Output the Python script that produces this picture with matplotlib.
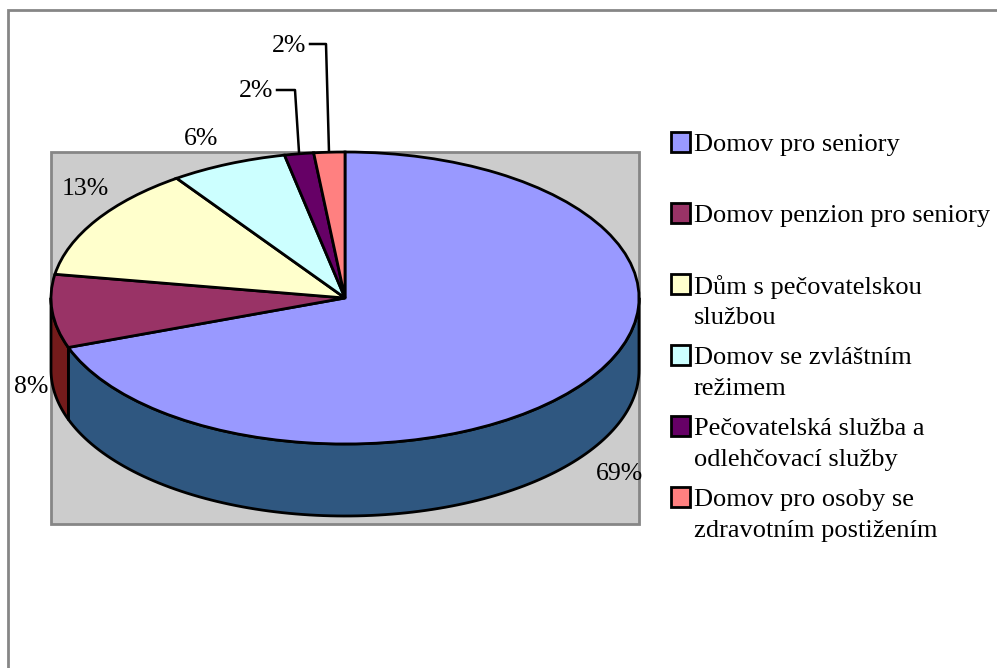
import numpy as np
import matplotlib
matplotlib.use("Agg")
import matplotlib.pyplot as plt
from matplotlib.patches import Rectangle

plt.rcParams['font.family'] = ['Liberation Serif', 'DejaVu Serif']

W = 997
H = 668

categories = ["Domov pro seniory", "Domov penzion pro seniory", "Dům s pečovatelskou\nslužbou",
              "Domov se zvláštním\nrežimem", "Pečovatelská služba a\nodlehčovací služby",
              "Domov pro osoby se\nzdravotním postižením"]
values = [69.5, 8.1, 12.7, 6.4, 1.6, 1.7]
labels = ["69%", "8%", "13%", "6%", "2%", "2%"]
colors = ["#9999FF", "#993366", "#FFFFCC", "#CCFFFF", "#660066", "#FF8080"]
side_colors = ["#2F5780", "#741B1B", "#808066", "#668080", "#330033", "#804040"]

label_pos = [(619, 474), (31, 387), (85, 189), (201, 139), (256, 91), (289, 46)]
legend_y = [143, 214, 285, 356, 427, 498]

fig = plt.figure(figsize=(W / 100, H / 100), dpi=100)

bg = fig.add_axes([0, 0, 1, 1])
bg.set_xlim(0, W)
bg.set_ylim(H, 0)
bg.axis('off')

# outer frame and grey plot area
bg.plot([8, 8, W], [H, 10, 10], color='#868686', lw=2, solid_joinstyle='miter')
bg.add_patch(Rectangle((51, 152), 588, 372, fc='#CCCCCC', ec='#868686', lw=2))

# pie in its own axes, ellipse comes from non equal aspect
depth = 72 / 146
left = 51
right = 639
top = 152
bottom = 152 + 146 * (2 + depth)
ax = fig.add_axes([left / W, 1 - bottom / H, (right - left) / W, (bottom - top) / H])
ax.patch.set_alpha(0)

angles = 90 - np.cumsum([0] + values) / np.sum(values) * 360

# side wall, only lower half of the ellipse shows
for i in range(len(values)):
    a_hi = angles[i]
    a_lo = angles[i + 1]
    # angles run below zero, shift them into the 180..360 window
    if a_hi <= 0:
        a_hi += 360
        a_lo += 360
    elif a_lo < 0:
        a_lo += 360
        a_hi = 360
    start = max(a_lo, 180)
    end = min(a_hi, 360)
    if end <= start:
        continue
    t = np.radians(np.linspace(start, end, 120))
    x = np.cos(t)
    y = np.sin(t)
    xs = np.concatenate([x, x[::-1]])
    ys = np.concatenate([y, y[::-1] - depth])
    ax.fill(xs, ys, fc=side_colors[i], ec='black', lw=2, joinstyle='round', zorder=1, clip_on=False)

ax.pie(values, colors=colors, startangle=90, counterclock=False, radius=1,
       wedgeprops={'edgecolor': 'black', 'linewidth': 2, 'clip_on': False})
for w in ax.patches:
    w.set_zorder(2)
ax.set_aspect('auto')
ax.set_xlim(-1, 1)
ax.set_ylim(-1 - depth, 1)
ax.axis('off')

# data labels
for lab, (x, y) in zip(labels, label_pos):
    bg.text(x, y, lab, fontsize=18.5, ha='center', va='center', color='black')

# leader lines for the two small slices
bg.plot([277, 295, 299], [90, 90, 152], color='black', lw=1.8)
bg.plot([310, 326, 329], [44, 44, 152], color='black', lw=1.8)

# legend
for name, col, y in zip(categories, colors, legend_y):
    bg.add_patch(Rectangle((670.5, y - 11), 19.5, 19.5, fc=col, ec='black', lw=2))
    if "\n" in name:
        first, second = name.split("\n")
        bg.text(694, y + 2, first, fontsize=19, ha='left', va='center', color='black')
        bg.text(694, y + 33, second, fontsize=19, ha='left', va='center', color='black')
    else:
        bg.text(694, y + 2, name, fontsize=19, ha='left', va='center', color='black')

fig.savefig("out.png", dpi=100)
